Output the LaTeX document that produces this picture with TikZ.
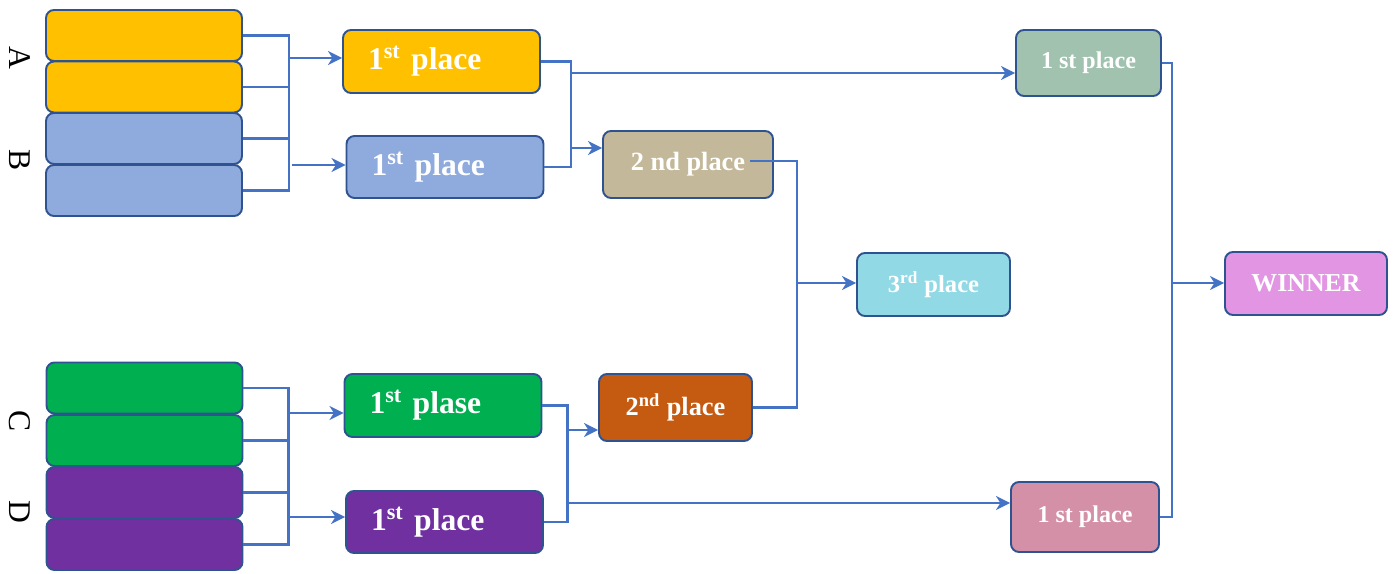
\documentclass[tikz,border=0pt]{standalone}
\usepackage{fontspec}
\setmainfont{Liberation Serif}
\usepackage{tikz}
\usetikzlibrary{arrows.meta}

\definecolor{boxline}{HTML}{2F5390}
\definecolor{linkblue}{HTML}{4472C4}
\definecolor{gold}{HTML}{FFC000}
\definecolor{skyblue}{HTML}{8FAADC}
\definecolor{grassgreen}{HTML}{00B050}
\definecolor{violet}{HTML}{7030A0}
\definecolor{sand}{HTML}{C4B89A}
\definecolor{rust}{HTML}{C55A11}
\definecolor{aqua}{HTML}{92D9E6}
\definecolor{sage}{HTML}{A1C2AF}
\definecolor{rose}{HTML}{D490A6}
\definecolor{orchid}{HTML}{E295E3}

\begin{document}
\begin{tikzpicture}[x=0.02cm,y=-0.02cm,
  team/.style={draw=boxline, line width=1.1pt, rounded corners=0.16cm, fill=#1,
    inner sep=0pt, minimum width=3.92cm, minimum height=1.02cm},
  place/.style={draw=boxline, line width=1.1pt, rounded corners=0.16cm, fill=#1,
    inner sep=0pt, text=white, font=\bfseries},
  first/.style={place=#1, inner xsep=0.5cm, text width=2.94cm, align=left,
    font=\bfseries\fontsize{18}{20}\selectfont},
  group/.style={rotate=-90, font=\fontsize{18}{18}\selectfont},
  link/.style={draw=linkblue, line width=1.3pt},
  arr/.style={link, -{Stealth[length=8pt,width=8pt,inset=2.5pt]}}]
  \useasboundingbox (0,0) rectangle (1400,574);

  \node[group] (labA) at (20,58) {A};
  \node[group] (labB) at (20,160) {B};
  \node[group] (labC) at (20,421) {C};
  \node[group] (labD) at (20,512) {D};

  \node[team=gold] (A1) at (144,35.5) {};
  \node[team=gold] (A2) at (144,87) {};
  \node[team=skyblue] (B1) at (144,138.5) {};
  \node[team=skyblue] (B2) at (144,190.5) {};

  \node[team=grassgreen] (C1) at (144.5,388) {};
  \node[team=grassgreen] (C2) at (144.5,440.5) {};
  \node[team=violet] (D1) at (144.5,492.5) {};
  \node[team=violet] (D2) at (144.5,544.5) {};

  \node[first=gold, minimum height=1.26cm] (winA) at (441.5,61.5) {\raisebox{-0.1cm}{1\textsuperscript{st} place}};
  \node[first=skyblue, minimum height=1.24cm] (winB) at (445,167) {\raisebox{-0.1cm}{1\textsuperscript{st} place}};
  \node[first=grassgreen, minimum height=1.26cm] (winC) at (443,405.5) {\raisebox{-0.1cm}{1\textsuperscript{st} plase}};
  \node[first=violet, minimum height=1.24cm] (winD) at (444.5,522) {\raisebox{-0.1cm}{1\textsuperscript{st} place}};

  \node[place=sand, minimum width=3.40cm, minimum height=1.34cm,
    font=\bfseries\fontsize{15}{17}\selectfont] (secAB) at (688,164.5) {2 nd place};
  \node[place=rust, minimum width=3.06cm, minimum height=1.34cm,
    font=\bfseries\fontsize{15}{17}\selectfont] (secCD) at (675.5,407.5) {2\textsuperscript{nd} place};
  \node[place=aqua, minimum width=3.06cm, minimum height=1.26cm,
    font=\bfseries\fontsize{14}{16}\selectfont] (third) at (933.5,284.5) {3\textsuperscript{rd} place};

  \node[place=sage, minimum width=2.90cm, minimum height=1.32cm,
    font=\bfseries\fontsize{13.7}{16}\selectfont] (topfinal) at (1088.5,63) {1 st place};
  \node[place=rose, minimum width=2.96cm, minimum height=1.40cm,
    font=\bfseries\fontsize{13.7}{16}\selectfont] (botfinal) at (1085,517) {1 st place};
  \node[place=orchid, minimum width=3.24cm, minimum height=1.26cm,
    font=\bfseries\fontsize{14.7}{16}\selectfont] (winner) at (1306,283.5) {WINNER};

  % group A and B
  \draw[link] (A1.east) -- ++(46,0) |- (B2.east);
  \draw[link] (A2.east) -- ++(46,0);
  \draw[link] (B1.east) -- ++(46,0);
  \coordinate (inA) at (288,58);
  \coordinate (inB) at (292,165);
  \draw[arr] (inA) -- (winA.west |- inA);
  \draw[arr] (inB) -- (winB.west |- inB);

  % group C and D
  \draw[link] (C1.east) -- ++(45,0) |- (D2.east);
  \draw[link] (C2.east) -- ++(45,0);
  \draw[link] (D1.east) -- ++(45,0);
  \coordinate (inC) at (287,413);
  \coordinate (inD) at (290,517);
  \draw[arr] (inC) -- (winC.west |- inC);
  \draw[arr] (inD) -- (winD.west |- inD);

  % first places
  \draw[link] (winA.east) -- ++(30,0) |- (winB.east);
  \coordinate (jAB) at (570,73);
  \coordinate (jAB2) at (570,148);
  \draw[arr] (jAB) -- (topfinal.west |- jAB);
  \draw[arr] (jAB2) -- (secAB.west |- jAB2);

  \draw[link] (winC.east) -- ++(25,0) |- (winD.east);
  \coordinate (jCD) at (566,430);
  \coordinate (jCD2) at (566,503);
  \draw[arr] (jCD) -- (secCD.west |- jCD);
  \draw[arr] (jCD2) -- (botfinal.west |- jCD2);

  % second places
  \coordinate (tanout) at (750,161);
  \draw[link] (tanout) -- ++(47,0) |- (secCD.east);
  \coordinate (j3) at (797,283);
  \draw[arr] (j3) -- (third.west |- j3);

  % finals
  \draw[link] (topfinal.east) -- ++(10,0) |- (botfinal.east);
  \coordinate (jW) at (1171,283);
  \draw[arr] (jW) -- (winner.west |- jW);
\end{tikzpicture}
\end{document}
